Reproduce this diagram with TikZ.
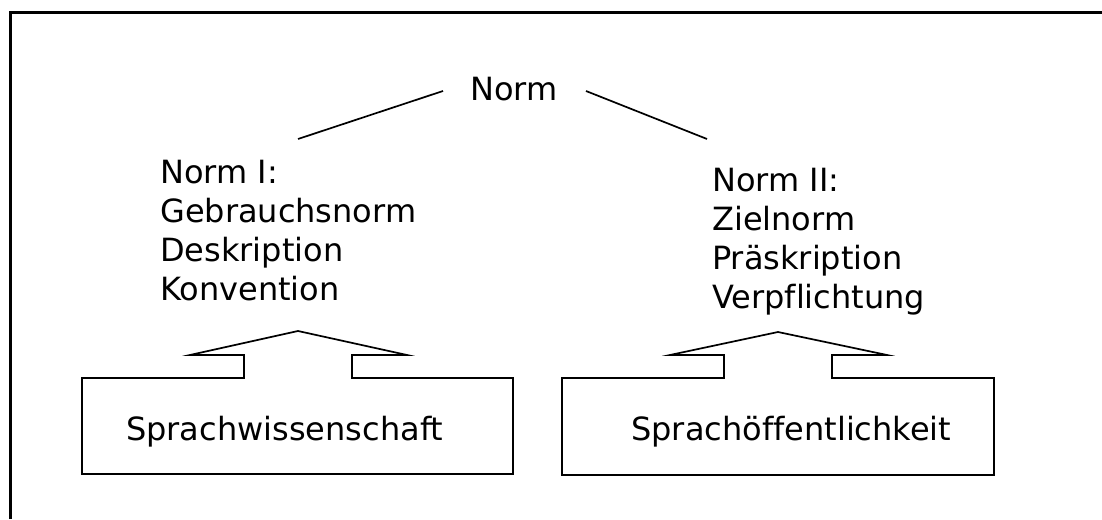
\documentclass[tikz,border=0pt]{standalone}
\usepackage{fontspec}
\setmainfont[Ligatures=NoCommon]{DejaVu Sans}
\begin{document}
\begin{tikzpicture}[x=1pt,y=-1pt,
  txt/.style={font=\fontsize{32}{39}\selectfont, inner sep=0pt, align=left},
  ln/.style={line width=1.7pt, line join=miter},
  frame/.style={line width=2.2pt}]
\useasboundingbox (0,0) rectangle (1102,519);
% frame (clipped at right and bottom)
\draw[frame] (10.5,519) -- (10.5,12.5) -- (1102,12.5);
% top node
\node[txt, anchor=base] (norm) at (514,100) {Norm};
\node[txt, anchor=north west] (n1) at (160,160) {Norm I:\\Gebrauchsnorm\\Deskription\\Konvention};
\node[txt, anchor=north west] (n2) at (712,168) {Norm II:\\Zielnorm\\Präskription\\Verpflichtung};
\coordinate (nl) at (443,91);
\coordinate (nr) at (586,91);
\coordinate (n1t) at (298,139);
\coordinate (n2t) at (707,139);
\draw[ln] (nl) -- (n1t);
\draw[ln] (nr) -- (n2t);
% left box with arrow
\draw[ln] (82,474) -- (82,378) -- (244,378) -- (244,355) -- (190,355) -- (298,331)
  -- (407,355) -- (352,355) -- (352,378) -- (513,378) -- (513,474) -- cycle;
\node[txt, anchor=base west] (b1) at (126,440) {Sprachwissenschaft};
% right box with arrow
\draw[ln] (562,475) -- (562,378) -- (724,378) -- (724,355) -- (670,355) -- (778,332)
  -- (887,355) -- (832,355) -- (832,378) -- (994,378) -- (994,475) -- cycle;
\node[txt, anchor=base west] (b2) at (631,440) {Sprachöffentlichkeit};
\end{tikzpicture}
\end{document}
